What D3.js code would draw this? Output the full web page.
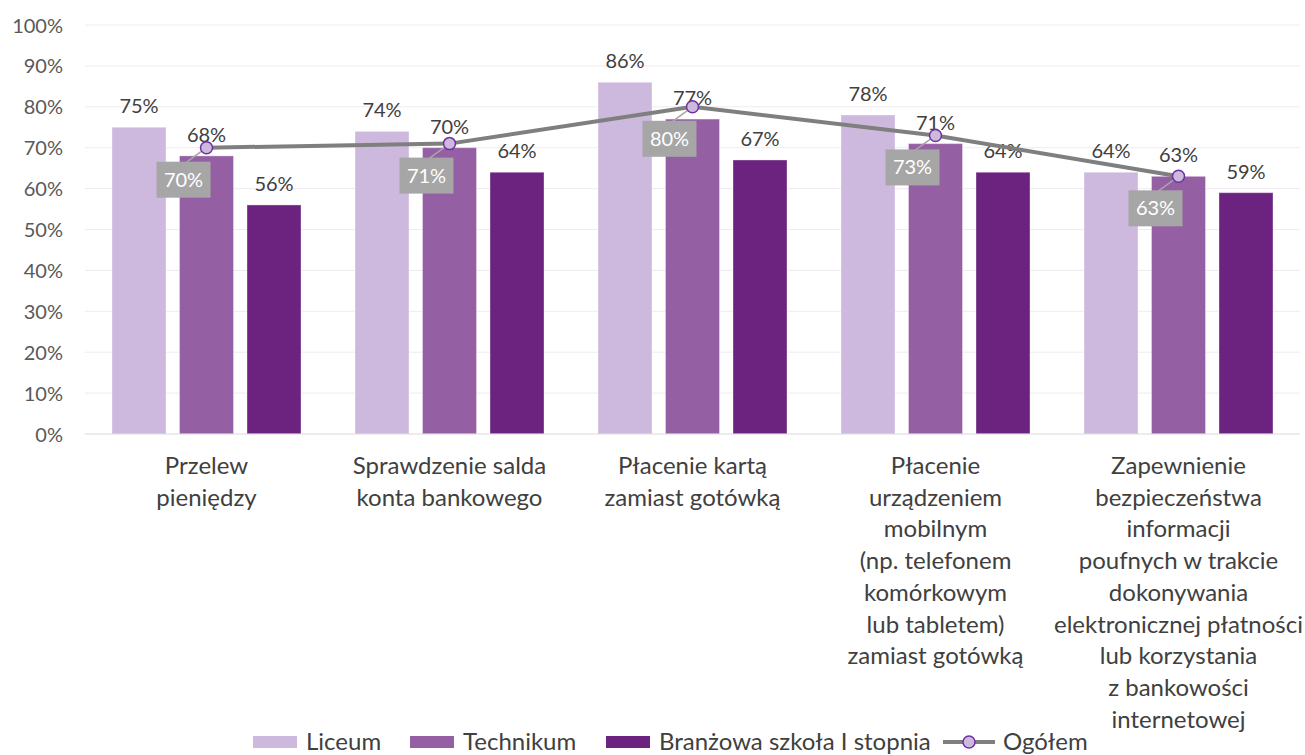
<!DOCTYPE html>
<html>
<head>
<meta charset="utf-8">
<script src="https://cdn.jsdelivr.net/npm/d3@7"></script>
<style>
  body { margin: 0; background: #fff; }
  svg { display: block; font-family: Lato, "Open Sans", sans-serif; }
</style>
</head>
<body>
<svg id="chart" width="1305" height="755"></svg>
<script>
// Categories (multi-line axis labels)
const categories = [
  ["Przelew", "pieniędzy"],
  ["Sprawdzenie salda", "konta bankowego"],
  ["Płacenie kartą", "zamiast gotówką"],
  ["Płacenie", "urządzeniem", "mobilnym", "(np. telefonem", "komórkowym", "lub tabletem)", "zamiast gotówką"],
  ["Zapewnienie", "bezpieczeństwa", "informacji", "poufnych w trakcie", "dokonywania", "elektronicznej płatności", "lub korzystania", "z bankowości", "internetowej"]
];
const seriesNames = ["Liceum", "Technikum", "Branżowa szkoła I stopnia"];
const liceum = [75, 74, 86, 78, 64];
const technikum = [68, 70, 77, 71, 63];
const branzowa = [56, 64, 67, 64, 59];
const ogolem = [70, 71, 80, 73, 63];
const lineName = "Ogółem";
const yTicks = [0, 10, 20, 30, 40, 50, 60, 70, 80, 90, 100];

const colors = ["#CDB9DD", "#955FA3", "#6C237F"];
const seriesValues = [liceum, technikum, branzowa];

const svg = d3.select("#chart");
const plot = { left: 85, right: 1300, top: 25, bottom: 434 };

const y = d3.scaleLinear().domain([0, 100]).range([plot.bottom, plot.top]);
const x0 = d3.scaleBand().domain(d3.range(categories.length)).range([plot.left, plot.right]).padding(0);
const x1 = d3.scaleBand().domain(d3.range(seriesNames.length)).range([0, x0.bandwidth()])
  .paddingInner(0.2).paddingOuter(0.4);

// Gridlines
svg.append("g").selectAll("line").data(yTicks.filter(t => t > 0)).join("line")
  .attr("x1", plot.left).attr("x2", plot.right)
  .attr("y1", d => y(d)).attr("y2", d => y(d))
  .attr("stroke", "#F1E9F3").attr("stroke-width", 1);

// Y axis labels
const yAxis = d3.axisLeft(y).tickValues(yTicks).tickFormat(d => d + "%").tickSize(0).tickPadding(0);
const ya = svg.append("g").attr("transform", `translate(63,0)`).call(yAxis);
ya.select(".domain").remove();
ya.selectAll("text").attr("fill", "#595959").style("font-size", "20px")
  .style("font-family", "Lato, sans-serif").attr("dy", "0.35em");

// Bars
const groups = svg.append("g").selectAll("g").data(categories).join("g")
  .attr("transform", (d, i) => `translate(${x0(i)},0)`);

seriesValues.forEach((vals, s) => {
  groups.append("rect")
    .attr("x", x1(s))
    .attr("width", x1.bandwidth())
    .attr("y", (d, i) => y(vals[i]))
    .attr("height", (d, i) => y(0) - y(vals[i]))
    .attr("fill", colors[s])
    .attr("stroke", "rgba(255,255,255,0.35)")
    .attr("stroke-width", 1);
  groups.append("text")
    .attr("x", x1(s) + x1.bandwidth() / 2)
    .attr("y", (d, i) => y(vals[i]) - 14)
    .attr("text-anchor", "middle")
    .attr("fill", "#404040")
    .style("font-size", "20px")
    .text((d, i) => vals[i] + "%");
});

// X axis baseline
svg.append("line").attr("x1", plot.left).attr("x2", plot.right)
  .attr("y1", y(0)).attr("y2", y(0)).attr("stroke", "#D9D9D9").attr("stroke-width", 1);

// Category labels
const catText = svg.append("g").selectAll("text").data(categories).join("text")
  .attr("text-anchor", "middle")
  .attr("fill", "#404040")
  .style("font-size", "24px")
  .attr("transform", (d, i) => `translate(${x0(i) + x0.bandwidth() / 2},474)`);
catText.selectAll("tspan").data(d => d).join("tspan")
  .attr("x", 0).attr("dy", (d, i) => i === 0 ? 0 : 31.7).text(d => d);

// Line series (Ogółem) through the Technikum bar centres
const lx = i => x0(i) + x1(1) + x1.bandwidth() / 2;
const line = d3.line().x((d, i) => lx(i)).y(d => y(d));
svg.append("path").datum(ogolem).attr("d", line)
  .attr("fill", "none").attr("stroke", "#7F7F7F").attr("stroke-width", 4).attr("stroke-linejoin", "round");

// Callout labels for the line
const callouts = svg.append("g").selectAll("g").data(ogolem).join("g")
  .attr("transform", (d, i) => `translate(${lx(i)},${y(d)})`);
callouts.append("line").attr("x1", 0).attr("y1", 0).attr("x2", -22).attr("y2", 16)
  .attr("stroke", "#A6A6A6").attr("stroke-width", 1.5);
callouts.append("rect").attr("x", -50).attr("y", 14).attr("width", 54).attr("height", 36)
  .attr("fill", "#A6A6A6");
callouts.append("text").attr("x", -23).attr("y", 32).attr("dy", "0.35em")
  .attr("text-anchor", "middle").attr("fill", "#fff").style("font-size", "20px")
  .text(d => d + "%");

// Markers
svg.append("g").selectAll("circle").data(ogolem).join("circle")
  .attr("cx", (d, i) => lx(i)).attr("cy", d => y(d)).attr("r", 6)
  .attr("fill", "#CDB9DD").attr("stroke", "#7030A0").attr("stroke-width", 1.5);

// Legend
const legend = svg.append("g").attr("transform", "translate(0,742)");
const legendItems = [
  { name: seriesNames[0], type: "rect", color: colors[0], x: 253 },
  { name: seriesNames[1], type: "rect", color: colors[1], x: 410 },
  { name: seriesNames[2], type: "rect", color: colors[2], x: 606 },
  { name: lineName, type: "line", x: 943 }
];
legendItems.forEach(it => {
  const g = legend.append("g").attr("transform", `translate(${it.x},0)`);
  if (it.type === "rect") {
    g.append("rect").attr("x", 0).attr("y", -6).attr("width", 44).attr("height", 12).attr("fill", it.color);
    g.append("text").attr("x", 53).attr("y", 8).attr("fill", "#404040")
      .style("font-size", "24px").text(it.name);
  } else {
    g.append("line").attr("x1", 0).attr("x2", 52).attr("y1", 0).attr("y2", 0)
      .attr("stroke", "#7F7F7F").attr("stroke-width", 4);
    g.append("circle").attr("cx", 26).attr("cy", 0).attr("r", 6)
      .attr("fill", "#CDB9DD").attr("stroke", "#7030A0").attr("stroke-width", 1.5);
    g.append("text").attr("x", 60).attr("y", 8).attr("fill", "#404040")
      .style("font-size", "24px").text(it.name);
  }
});
</script>
</body>
</html>
